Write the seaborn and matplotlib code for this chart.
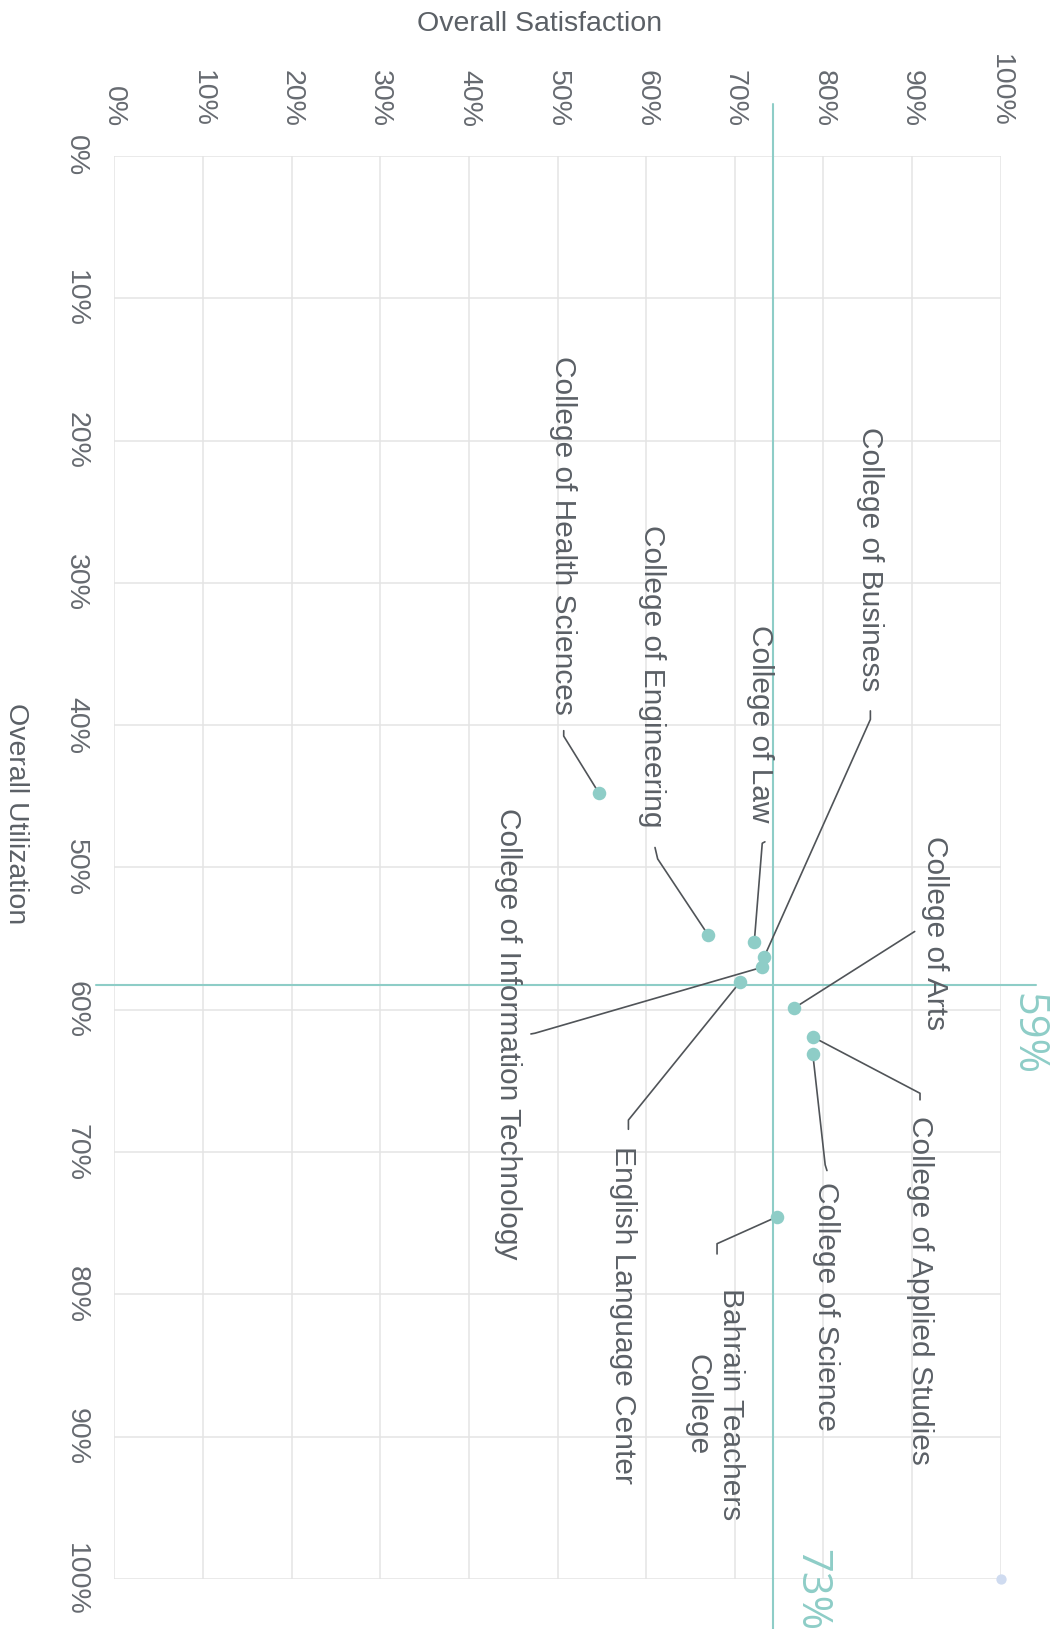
"""
College satisfaction vs. utilization scatter, drawn in the rotated
(90 degrees clockwise) orientation of the reference picture.
"""

import matplotlib
matplotlib.use("Agg")
import matplotlib.pyplot as plt
import pandas as pd
import seaborn as sns

# --- data -------------------------------------------------------------------
colleges = [
    "College of Health Sciences",
    "College of Engineering",
    "College of Law",
    "College of Business",
    "College of Information Technology",
    "English Language Center",
    "College of Arts",
    "College of Applied Studies",
    "College of Science",
    "Bahrain Teachers\nCollege",
]
satisfaction = [54.7, 67.0, 72.2, 73.3, 73.05, 70.6, 76.7, 78.8, 78.8, 74.8]
utilization = [44.8, 54.75, 55.24, 56.31, 57.02, 58.05, 59.88, 61.91, 63.09, 74.54]

# reference (average) lines and their captions
avg_satisfaction = 74.35
avg_utilization = 58.24
avg_satisfaction_label = "73%"
avg_utilization_label = "59%"

# faint corner marker of the original chart
corner_satisfaction = [100]
corner_utilization = [100]

tick_values = list(range(0, 101, 10))
tick_labels = [f"{t}%" for t in tick_values]

# --- layout of the callouts (satisfaction, utilization) ----------------------
# text anchor, vertical alignment, leader polyline from the point outwards
LABEL_LAYOUT = {
    "College of Health Sciences": ((50.6, 39.3), "bottom", [(50.7, 40.77), (50.7, 40.39)]),
    "College of Engineering": ((60.7, 47.2), "bottom", [(61.3, 49.4), (61.0, 48.6)]),
    "College of Law": ((72.9, 46.87), "bottom", [(73.1, 48.3), (73.4, 48.2)]),
    "College of Business": ((85.3, 37.6), "bottom", [(85.3, 39.6), (85.3, 39.0)]),
    "College of Information Technology": ((44.4, 45.84), "top", [(47.45, 61.65), (47.0, 61.7)]),
    "English Language Center": ((57.44, 69.58), "top", [(58.0, 67.75), (58.0, 68.4)]),
    "College of Arts": ((92.6, 47.82), "top", [(90.3, 54.5)]),
    "College of Applied Studies": ((90.85, 67.5), "top", [(90.9, 65.87), (90.9, 66.33)]),
    "College of Science": ((80.3, 72.13), "top", [(80.2, 70.9), (80.4, 71.3)]),
    "Bahrain Teachers\nCollege": ((67.7, 79.57), "top", [(68.0, 76.44), (68.0, 77.16)]),
}

TEAL = "#8ecdc7"
TEXT = "#5b6066"
TICK = "#666a70"
LEADER = "#505458"
GRID = "#e4e4e4"


def main():
    sns.set_theme(style="white")
    plt.rcParams["font.family"] = ["Liberation Sans", "DejaVu Sans"]

    df = pd.DataFrame(
        {"college": colleges, "satisfaction": satisfaction, "utilization": utilization}
    )

    fig = plt.figure(figsize=(10.53, 16.29), dpi=100)
    ax = fig.add_axes([0.1086, 0.0307, 0.8417, 0.8736])

    ax.set_xlim(0, 100)
    ax.set_ylim(100, 0)
    ax.set_xticks(tick_values)
    ax.set_yticks(tick_values)
    ax.set_xticklabels(tick_labels)
    ax.set_yticklabels(tick_labels)
    ax.grid(True, color=GRID, linewidth=1.1)
    ax.set_axisbelow(True)
    for s in ax.spines.values():
        s.set_visible(False)

    ax.tick_params(
        axis="x", top=True, labeltop=True, bottom=False, labelbottom=False,
        length=0, pad=21, labelsize=20.5, labelcolor=TICK, labelrotation=-90,
    )
    ax.tick_params(
        axis="y", length=0, pad=18, labelsize=20.5, labelcolor=TICK, labelrotation=-90,
    )
    for lbl in ax.get_yticklabels():
        lbl.set_va("center")

    # average lines, running past the plot area
    ax.plot([avg_satisfaction, avg_satisfaction], [-3.65, 104], color=TEAL,
            lw=1.5, clip_on=False, zorder=2)
    ax.plot([-2.1, 104], [avg_utilization, avg_utilization], color=TEAL,
            lw=1.5, clip_on=False, zorder=2)
    ax.text(103.0, 58.8, avg_utilization_label, rotation=-90, ha="center", va="top",
            fontsize=30, color=TEAL, family=["Open Sans", "DejaVu Sans"], clip_on=False)
    ax.text(78.6, 97.9, avg_satisfaction_label, rotation=-90, ha="center", va="top",
            fontsize=30, color=TEAL, family=["Open Sans", "DejaVu Sans"], clip_on=False)

    # callouts
    for _, row in df.iterrows():
        (tx, ty), va, leader = LABEL_LAYOUT[row["college"]]
        xs = [row["satisfaction"]] + [p[0] for p in leader]
        ys = [row["utilization"]] + [p[1] for p in leader]
        ax.plot(xs, ys, color=LEADER, lw=1.2, zorder=3)
        ax.text(tx, ty, row["college"], rotation=-90, ha="center", va=va,
                multialignment="center", linespacing=1.25,
                fontsize=21.5, color=TEXT, zorder=4)

    sns.scatterplot(data=df, x="satisfaction", y="utilization", color=TEAL,
                    s=95, linewidth=0, ax=ax, zorder=5)
    sns.scatterplot(x=corner_satisfaction, y=corner_utilization, color="#cfdbf0",
                    s=55, linewidth=0, ax=ax, zorder=5, clip_on=False)
    ax.set_xlabel("")
    ax.set_ylabel("")

    fig.text(540 / 1053, 1 - 24 / 1629, "Overall Satisfaction", ha="center",
             va="center", fontsize=20.5, color=TEXT)
    fig.text(15.5 / 1053, 1 - 814 / 1629, "Overall Utilization", ha="center",
             va="center", rotation=-90, fontsize=20.5, color=TEXT)

    fig.savefig("out.png", dpi=100)


if __name__ == "__main__":
    main()
